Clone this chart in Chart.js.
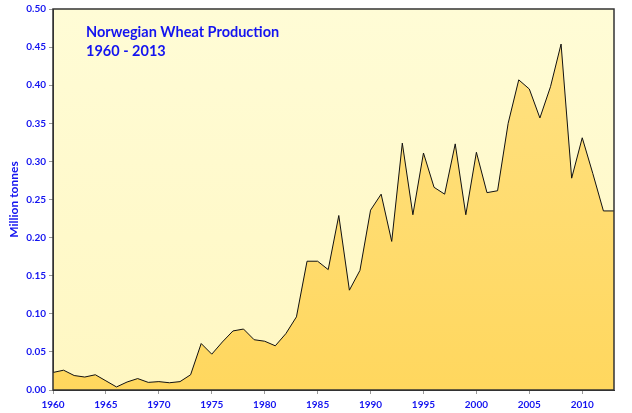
<!DOCTYPE html>
<html>
<head>
<meta charset="utf-8">
<script src="https://cdn.jsdelivr.net/npm/chart.js@4/dist/chart.umd.min.js"></script>
<style>
  html, body { margin: 0; padding: 0; background: #fff; }
  #wrap { width: 632px; height: 413px; position: relative; }
</style>
</head>
<body>
<div id="wrap"><canvas id="myChart"></canvas></div>
<script>
// Norwegian wheat production, million tonnes
var years = [];
for (var y = 1960; y <= 2013; y++) years.push(y);
var production = [
  0.023, 0.026, 0.019, 0.017, 0.020, 0.012, 0.004, 0.0105, 0.015, 0.010,
  0.011, 0.0095, 0.011, 0.020, 0.061, 0.047, 0.063, 0.0775, 0.080, 0.066,
  0.064, 0.058, 0.074, 0.096, 0.169, 0.169, 0.158, 0.229, 0.131, 0.157,
  0.236, 0.257, 0.195, 0.324, 0.230, 0.311, 0.266, 0.257, 0.323, 0.230,
  0.312, 0.259, 0.2615, 0.350, 0.407, 0.395, 0.357, 0.398, 0.454, 0.278,
  0.331, 0.284, 0.235, 0.235
];
var yearTicks = [1960, 1965, 1970, 1975, 1980, 1985, 1990, 1995, 2000, 2005, 2010];
var titleLines = ["Norwegian Wheat Production", "1960 - 2013"];
var yTitle = "Million tonnes";

var blue = "#1414f0";
var points = years.map(function (yr, i) { return { x: yr, y: production[i] }; });

var plotBg = {
  id: "plotBg",
  beforeDraw: function (chart) {
    var a = chart.chartArea, c = chart.ctx;
    c.save();
    var g = c.createLinearGradient(0, a.top, 0, a.bottom);
    g.addColorStop(0, "#fffcd6");
    g.addColorStop(1, "#fff7c2");
    c.fillStyle = g;
    c.fillRect(a.left, a.top, a.right - a.left, a.bottom - a.top);
    c.restore();
  },
  afterDraw: function (chart) {
    var a = chart.chartArea, c = chart.ctx;
    c.save();
    c.strokeStyle = "#333";
    c.lineWidth = 1.5;
    c.strokeRect(a.left, a.top, a.right - a.left, a.bottom - a.top);
    c.fillStyle = blue;
    c.font = "bold 14.5px Lato";
    c.textBaseline = "middle";
    c.fillText(titleLines[0], a.left + 33, 32);
    c.fillText(titleLines[1], a.left + 33, 51);
    c.restore();
  }
};

var ctx = document.getElementById("myChart").getContext("2d");
var fillGrad = ctx.createLinearGradient(0, 9, 0, 390);
fillGrad.addColorStop(0, "#ffe285");
fillGrad.addColorStop(1, "#ffd75e");

var myChart = new Chart(ctx, {
  type: "line",
  data: {
    datasets: [{
      data: points,
      borderColor: "#111",
      borderWidth: 1,
      backgroundColor: fillGrad,
      fill: "origin",
      pointRadius: 0,
      tension: 0
    }]
  },
  options: {
    responsive: true,
    maintainAspectRatio: false,
    animation: false,
    layout: { padding: { top: 9, right: 18, left: 0, bottom: 0 } },
    plugins: { legend: { display: false }, tooltip: { enabled: false } },
    scales: {
      x: {
        type: "linear",
        min: 1960,
        max: 2013,
        afterFit: function (s) { s.height = 23; },
        afterBuildTicks: function (s) {
          s.ticks = yearTicks.map(function (v) { return { value: v }; });
        },
        ticks: {
          autoSkip: false,
          color: blue,
          font: { family: "Lato", weight: "bold", size: 10 },
          padding: 5,
          maxRotation: 0,
          callback: function (v) { return v; }
        },
        grid: { drawOnChartArea: false, color: "#999", tickLength: 4 },
        border: { color: "#333" }
      },
      y: {
        min: 0,
        max: 0.5,
        afterFit: function (s) { s.width = 53; },
        ticks: {
          stepSize: 0.05,
          color: blue,
          font: { family: "Lato", weight: "bold", size: 10 },
          padding: 3,
          callback: function (v) { return v.toFixed(2); }
        },
        grid: { drawOnChartArea: false, color: "#999", tickLength: 4 },
        border: { color: "#333" },
        title: {
          display: true,
          text: yTitle,
          color: blue,
          font: { family: "Lato", weight: "bold", size: 12 },
          padding: { top: 7, bottom: 0 }
        }
      }
    }
  },
  plugins: [plotBg]
});
</script>
</body>
</html>
